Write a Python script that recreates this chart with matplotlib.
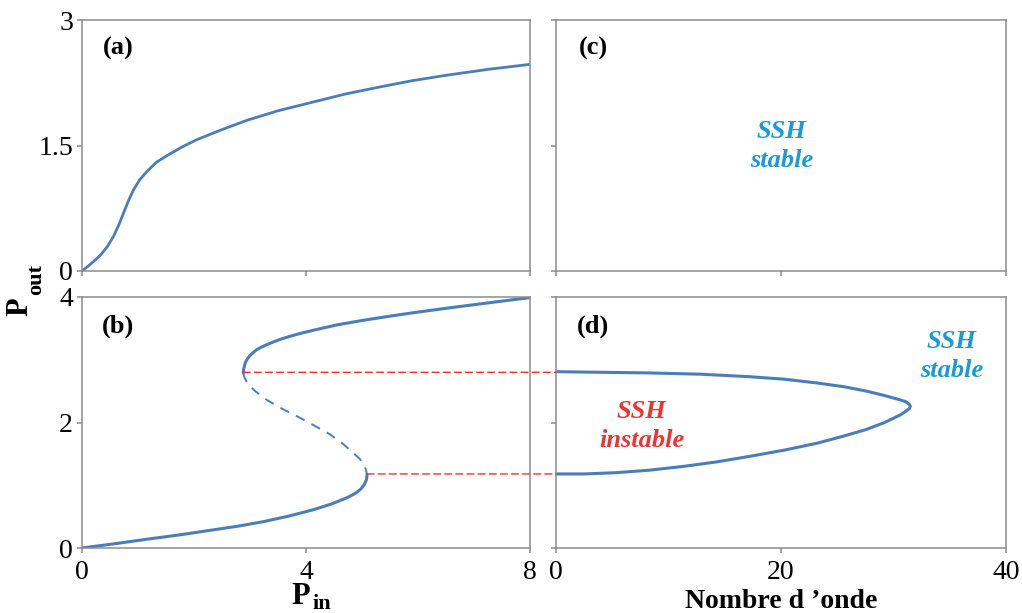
import matplotlib
matplotlib.use("Agg")
import matplotlib.pyplot as plt
from matplotlib.patches import ConnectionPatch

plt.rcParams['font.family'] = ['Liberation Serif', 'DejaVu Serif']

# (a) courbe monostable
pin_a = [0, 0.15, 0.33, 0.45, 0.56, 0.65, 0.74, 0.83, 0.92, 1.03, 1.16, 1.33, 1.52,
         1.78, 2.05, 2.5, 2.94, 3.5, 4.13, 4.7, 5.32, 5.9, 6.51, 7.25, 8.0]
pout_a = [0, 0.08, 0.19, 0.29, 0.41, 0.54, 0.69, 0.84, 0.97, 1.09, 1.19, 1.30, 1.38,
          1.48, 1.57, 1.69, 1.80, 1.915, 2.02, 2.115, 2.20, 2.275, 2.34, 2.41, 2.47]

# (b) courbe bistable : branche haute, branche instable, branche basse
pin_b_haut = [2.88, 2.885, 2.90, 2.92, 2.95, 2.99, 3.05, 3.12, 3.20, 3.30, 3.42, 3.54, 3.7, 3.9,
              4.13, 4.55, 5.03, 5.5, 5.92, 6.5, 7.11, 7.55, 8.0]
pout_b_haut = [2.79, 2.84, 2.90, 2.96, 3.01, 3.06, 3.11, 3.16, 3.20, 3.24, 3.285, 3.325, 3.37, 3.42,
               3.47, 3.555, 3.63, 3.695, 3.75, 3.82, 3.89, 3.94, 3.99]
pin_b_mil = [2.88, 2.90, 2.94, 3.0, 3.08, 3.18, 3.30, 3.55, 3.84, 4.13, 4.43, 4.66, 4.85, 4.96,
             5.03, 5.07, 5.09]
pout_b_mil = [2.79, 2.72, 2.65, 2.58, 2.51, 2.44, 2.36, 2.23, 2.10, 1.96, 1.81, 1.66, 1.51, 1.42,
              1.33, 1.25, 1.17]
pin_b_bas = [0, 0.6, 1.16, 1.75, 2.35, 2.8, 3.24, 3.7, 4.13, 4.45, 4.73, 4.88, 4.98, 5.04, 5.08, 5.09]
pout_b_bas = [0, 0.07, 0.14, 0.21, 0.29, 0.35, 0.42, 0.51, 0.61, 0.70, 0.80, 0.87, 0.94, 1.01, 1.09, 1.17]

# seuils de bistabilité (Pin, Pout)
seuil_pin = [2.88, 5.09]
seuil_pout = [2.80, 1.18]

# (d) frontière de stabilité SSH
k_d = [0, 4.0, 8.3, 12.8, 17.2, 20.3, 23.2, 25.6, 27.6, 29.2, 30.6, 31.1, 31.4, 31.5,
       31.4, 31.1, 30.6, 29.2, 27.6, 25.5, 23.2, 20.3, 17.2, 14.2, 11.3, 8.3, 5.3, 2.5, 0]
pout_d = [2.81, 2.80, 2.79, 2.77, 2.73, 2.69, 2.63, 2.57, 2.50, 2.43, 2.36, 2.33, 2.29, 2.26,
          2.22, 2.18, 2.12, 2.00, 1.89, 1.78, 1.67, 1.56, 1.46, 1.37, 1.30, 1.24, 1.20, 1.18, 1.18]

bleu = '#4a7ebb'
rouge = '#ee3333'
cyan = '#1a9ad6'
gris = '#8c8c8c'

W, H = 1022, 613
fig = plt.figure(figsize=(W / 100, H / 100), dpi=100)


def box(x0, y0, x1, y1):
    return [x0 / W, 1 - y1 / H, (x1 - x0) / W, (y1 - y0) / H]


ax_a = fig.add_axes(box(82, 20, 530, 271))
ax_c = fig.add_axes(box(556, 20, 1006, 271))
ax_b = fig.add_axes(box(82, 297, 530, 548))
ax_d = fig.add_axes(box(556, 297, 1006, 548))

for ax in (ax_a, ax_b):
    ax.set_xlim(0, 8)
    ax.set_xticks([0, 4, 8])
for ax in (ax_c, ax_d):
    ax.set_xlim(0, 40)
    ax.set_xticks([0, 20, 40])
for ax in (ax_a, ax_c):
    ax.set_ylim(0, 3)
    ax.set_yticks([0, 1.5, 3])
    ax.set_yticklabels(['0', '1.5', '3'])
    ax.tick_params(axis='x', labelbottom=False)
for ax in (ax_b, ax_d):
    ax.set_ylim(0, 4)
    ax.set_yticks([0, 2, 4])
for ax in (ax_c, ax_d):
    ax.tick_params(axis='y', labelleft=False)

for ax in (ax_a, ax_b, ax_c, ax_d):
    for s in ax.spines.values():
        s.set_color(gris)
        s.set_linewidth(1.1)
    ax.tick_params(direction='out', length=3.5, width=1.1, color=gris,
                   labelsize=20, labelcolor='black')
    ax.tick_params(axis='x', pad=5)
    ax.tick_params(axis='y', pad=3)

ax_a.plot(pin_a, pout_a, color=bleu, lw=2.0, solid_capstyle='round')
ax_b.plot(pin_b_haut, pout_b_haut, color=bleu, lw=2.2, solid_capstyle='round')
ax_b.plot(pin_b_bas, pout_b_bas, color=bleu, lw=2.2, solid_capstyle='round')
ax_b.plot(pin_b_mil, pout_b_mil, color=bleu, lw=1.4, dashes=(5, 4))
ax_d.plot(k_d, pout_d, color=bleu, lw=2.2)

for pi, po in zip(seuil_pin, seuil_pout):
    con = ConnectionPatch(xyA=(pi, po), coordsA=ax_b.transData,
                          xyB=(0, po), coordsB=ax_d.transData,
                          color=rouge, lw=1.0, linestyle=(0, (5, 3)), zorder=5)
    fig.add_artist(con)

for ax, lab in ((ax_a, '(a)'), (ax_b, '(b)'), (ax_c, '(c)'), (ax_d, '(d)')):
    ax.text(0.08 if ax in (ax_a, ax_b) else 0.083, 0.885, lab, transform=ax.transAxes,
            fontsize=19, fontweight='bold', ha='center', va='center')

kw = dict(fontsize=19, fontweight='bold', style='italic', ha='center',
          va='center', linespacing=1.3)
fig.text(781.5 / W, 1 - 146 / H, 'SSH\nstable', color=cyan, **kw)
fig.text(951.5 / W, 1 - 356 / H, 'SSH\nstable', color=cyan, **kw)
fig.text(641.5 / W, 1 - 426 / H, 'SSH\ninstable', color=rouge, **kw)

# étiquettes d'axes : P avec indice
fig.text(20 / W, 1 - 307 / H, 'P', rotation=90, fontsize=22, fontweight='bold',
         ha='center', va='center')
fig.text(36 / W, 1 - 280 / H, 'out', rotation=90, fontsize=16, fontweight='bold',
         ha='center', va='center')
fig.text(301 / W, 1 - 597 / H, 'P', fontsize=22, fontweight='bold',
         ha='center', va='center')
fig.text(322 / W, 1 - 604 / H, 'in', fontsize=16, fontweight='bold',
         ha='center', va='center')
fig.text(781 / W, 1 - 601 / H, "Nombre d \u2019onde", fontsize=20,
         fontweight='bold', ha='center', va='center')

fig.savefig('out.png', dpi=100)
